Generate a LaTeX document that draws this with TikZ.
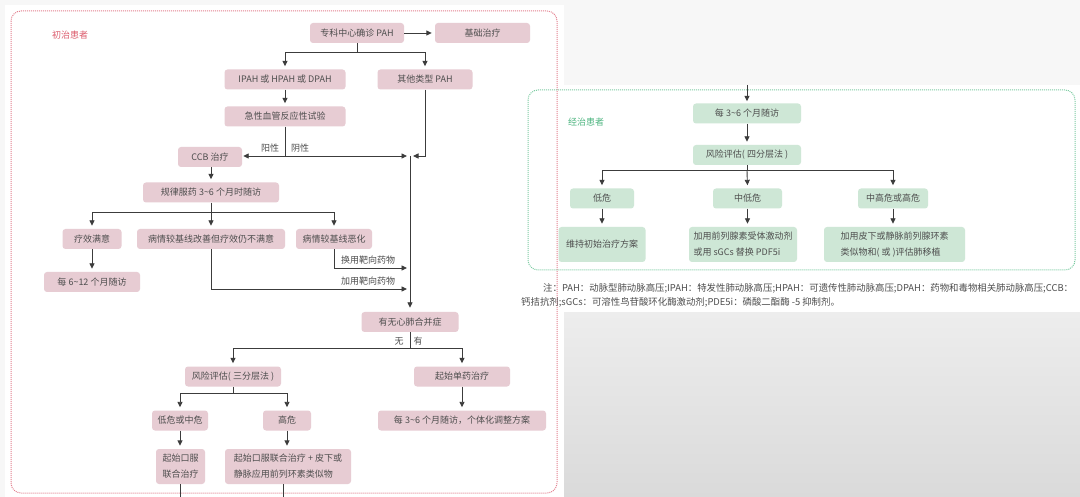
\documentclass[tikz,border=0pt]{standalone}
\usepackage{fontspec}
\setmainfont{Noto Sans CJK SC}
\usetikzlibrary{arrows.meta}
\definecolor{pinkfill}{HTML}{E7CCD3}
\definecolor{greenfill}{HTML}{CEE7D6}
\definecolor{redborder}{HTML}{E4808F}
\definecolor{greenborder}{HTML}{7DCCA3}
\definecolor{redlab}{HTML}{DC5A6B}
\definecolor{greenlab}{HTML}{4DB580}
\definecolor{linec}{HTML}{3C3C3C}
\definecolor{txt}{HTML}{4E4E4E}
\definecolor{pagebg}{HTML}{F7F7F7}
\definecolor{grayA}{HTML}{EDEDED}
\definecolor{grayB}{HTML}{DADADA}
\begin{document}
\begin{tikzpicture}[x=1pt,y=-1pt,
  box/.style={rounded corners=3pt, inner sep=0pt, minimum height=20pt, font=\fontsize{9}{11}\selectfont, text=txt},
  pbox/.style={box, fill=pinkfill},
  gbox/.style={box, fill=greenfill},
  two/.style={minimum height=35pt, align=left, font=\fontsize{9}{16}\selectfont},
  ln/.style={draw=linec, line width=0.9pt},
  arr/.style={ln, -{Triangle[length=5.5pt,width=5pt]}, shorten >=3pt},
  lab/.style={font=\fontsize{9}{11}\selectfont, text=txt, inner sep=0pt},
  notetext/.style={font=\fontsize{9.4}{11}\selectfont, text=txt, inner sep=0pt, anchor=west},
  frame/.style={rounded corners=10pt, line width=1pt, dash pattern=on 1pt off 1pt},
]
\useasboundingbox (0,0) rectangle (1080,497);
% backgrounds
\fill[pagebg] (0,0) rectangle (1080,497);
\fill[white] (5,5) rectangle (564,497);
\fill[white] (564,85) rectangle (1080,313);
\shade[top color=grayA, bottom color=grayB] (564,313) rectangle (1080,497);

% frames
\draw[frame, draw=redborder] (11,11) rectangle (557,493);
\draw[frame, draw=greenborder] (528,90) rectangle (1075,270);
\node[lab, text=redlab, anchor=west] (lab1) at (52,35) {初治患者};
\node[lab, text=greenlab, anchor=west] (lab2) at (568,122) {经治患者};

% ---------- left flow ----------
\node[pbox, minimum width=94pt] (zk) at (357,33) {专科中心确诊 PAH};
\node[pbox, minimum width=95pt] (jc) at (482.5,33) {基础治疗};
\node[pbox, minimum width=121pt] (ipah) at (285,79.5) {IPAH 或 HPAH 或 DPAH};
\node[pbox, minimum width=95pt] (qt) at (425,79.5) {其他类型 PAH};
\node[pbox, minimum width=121pt] (jx) at (285,116.5) {急性血管反应性试验};
\node[pbox, minimum width=64pt] (ccb) at (210,157) {CCB 治疗};
\node[pbox, minimum width=136pt] (gl) at (211,192.5) {规律服药 3\textasciitilde6 个月时随访};
\node[pbox, minimum width=59pt] (lx) at (92,239) {疗效满意};
\node[pbox, minimum width=148pt] (gs) at (211,239) {病情较基线改善但疗效仍不满意};
\node[pbox, minimum width=76pt] (eh) at (334,239) {病情较基线恶化};
\node[pbox, minimum width=96pt] (m612) at (92,282) {每 6\textasciitilde12 个月随访};
\node[pbox, minimum width=97pt] (yw) at (410,322) {有无心肺合并症};
\node[pbox, minimum width=96pt] (fx3) at (233,376.5) {风险评估( 三分层法 )};
\node[pbox, minimum width=96pt] (dy) at (462,376.5) {起始单药治疗};
\node[pbox, minimum width=56pt] (dw) at (180,420.5) {低危或中危};
\node[pbox, minimum width=48pt] (gw) at (287,420.5) {高危};
\node[pbox, minimum width=168pt] (m36) at (462,420.5) {每 3\textasciitilde6 个月随访，个体化调整方案};
\node[pbox, two, minimum width=49pt] (qs1) at (180.5,466.5) {起始口服\\联合治疗};
\node[pbox, two, minimum width=126pt] (qs2) at (288,466.5) {起始口服联合治疗 + 皮下或\\静脉应用前列环素类似物};

\node[lab] (yang) at (270,148) {阳性};
\node[lab] (yin) at (300,148) {阴性};
\node[lab] (hy) at (368,260) {换用靶向药物};
\node[lab] (jy) at (368,281) {加用靶向药物};
\node[lab] (wu) at (399,341) {无};
\node[lab] (you) at (418,341) {有};

\coordinate (b1) at (357,52);
\coordinate (jb) at (285,156);
\coordinate (tr) at (410,156);
\coordinate (b2) at (211,212);
\coordinate (e1) at (410,268);
\coordinate (e2) at (410,289);
\coordinate (b3) at (410,348);
\coordinate (b4) at (233,393);
\coordinate (e3) at (180,497);
\coordinate (e4) at (283,497);

\draw[arr] (zk.east) -- (jc.west);
\draw[ln] (zk.south) -- (b1);
\draw[arr] (b1) -| (ipah.north);
\draw[arr] (b1) -| (qt.north);
\draw[arr] (ipah.south) -- (jx.north);
\draw[ln] (jx.south) -- (jb);
\draw[arr, shorten >=1pt] (jb) -- (ccb.east |- jb);
\draw[arr] (jb) -- (tr);
\draw[arr] (qt.south) |- (tr);
\draw[arr, shorten >=4pt] (tr) -- (yw.north);
\draw[arr] (ccb.south -| gl.north) -- (gl.north);
\draw[ln] (gl.south) -- (b2);
\draw[arr] (b2) -| (lx.north);
\draw[arr] (b2) -- (gs.north);
\draw[arr] (b2) -| (eh.north);
\draw[arr] (lx.south) -- (m612.north);
\draw[arr] (eh.south) |- (e1);
\draw[arr] (gs.south) |- (e2);
\draw[ln] (yw.south) -- (b3);
\draw[arr] (b3) -| (fx3.north);
\draw[arr] (b3) -| (dy.north);
\draw[ln] (fx3.south) -- (b4);
\draw[arr] (b4) -| (dw.north);
\draw[arr] (b4) -| (gw.north);
\draw[arr] (dw.south) -- (qs1.north -| dw.south);
\draw[arr] (gw.south) -- (qs2.north -| gw.south);
\draw[arr] (dy.south) -- (m36.north);
\draw[ln] (qs1.south -| e3) -- (e3);
\draw[ln] (qs2.south -| e4) -- (e4);

% ---------- right flow ----------
\node[gbox, minimum width=108pt] (g1) at (747,113.5) {每 3\textasciitilde6 个月随访};
\node[gbox, minimum width=108pt] (g2) at (747,155) {风险评估( 四分层法 )};
\node[gbox, minimum width=64pt] (g3) at (602,198.5) {低危};
\node[gbox, minimum width=69pt] (g4) at (747.5,198.5) {中低危};
\node[gbox, minimum width=70pt] (g5) at (893,198.5) {中高危或高危};
\node[gbox, two, minimum width=87pt] (g6) at (602,244.5) {维持初始治疗方案};
\node[gbox, two, minimum width=108pt] (g7) at (743,244.5) {加用前列腺素受体激动剂\\或用 sGCs 替换 PDF5i};
\node[gbox, two, minimum width=141pt] (g8) at (894.5,244.5) {加用皮下或静脉前列腺环素\\类似物和( 或 )评估肺移植};

\coordinate (top) at (747,85);
\coordinate (b5) at (747,170);
\draw[arr, shorten >=2pt] (top) -- (g1.north);
\draw[arr] (g1.south) -- (g2.north);
\draw[ln] (g2.south) -- (b5);
\draw[arr] (b5) -| (g3.north);
\draw[arr] (b5) -- (g4.north);
\draw[arr] (b5) -| (g5.north);
\draw[arr] (g3.south) -- (g6.north);
\draw[arr] (g4.south) -- (g7.north -| g4.south);
\draw[arr] (g5.south) -- (g8.north -| g5.south);

% note
\node[notetext] (n1) at (543,288) {注：PAH：动脉型肺动脉高压;IPAH：特发性肺动脉高压;HPAH：可遗传性肺动脉高压;DPAH：药物和毒物相关肺动脉高压;CCB：};
\node[notetext] (n2) at (521,302) {钙拮抗剂;sGCs：可溶性鸟苷酸环化酶激动剂;PDE5i：磷酸二酯酶 -5 抑制剂。};
\end{tikzpicture}
\end{document}
